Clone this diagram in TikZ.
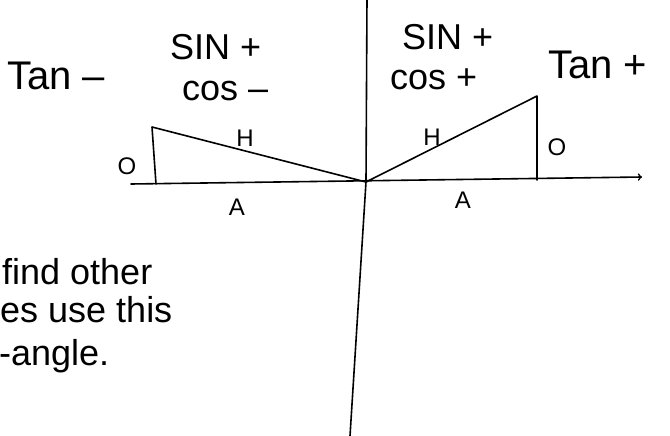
\documentclass[tikz,border=0pt]{standalone}
\usepackage{fontspec}
\setmainfont{Liberation Sans}
\usepackage{tikz}
\usetikzlibrary{arrows,positioning,calc}

\begin{document}
\begin{tikzpicture}[x=1pt, y=-1pt,
    sign/.style={anchor=base west, inner sep=0pt, font=\fontsize{36}{40}\selectfont},
    tanlabel/.style={anchor=base west, inner sep=0pt, font=\fontsize{40}{44}\selectfont},
    side/.style={inner sep=0pt, font=\fontsize{24}{28}\selectfont},
    note/.style={anchor=base west, inner sep=0pt, font=\fontsize{36}{40}\selectfont},
    pen/.style={line width=1.6pt, line cap=round, line join=round}]

    \useasboundingbox (0,0) rectangle (670,436);

    % axes
    \coordinate (O) at (366,182);
    \coordinate (ytop) at (367,-2);
    \coordinate (ybot) at (350,436);
    \coordinate (xleft) at (131,184);
    \coordinate (xright) at (642,177);
    \draw[pen] (ytop) -- (O) -- (ybot);
    \draw[pen, ->] (xleft) -- (xright);

    % second quadrant triangle
    \coordinate (ltop) at (152,127);
    \coordinate (lfoot) at (156,184);
    \draw[pen] (lfoot) -- (ltop) -- (O);

    % first quadrant triangle
    \coordinate (rtop) at (537,96);
    \coordinate (rfoot) at (537,180);
    \draw[pen] (O) -- (rtop) -- (rfoot);

    % signs
    \node[tanlabel] (tanl) at (7,90) {Tan --};
    \node[sign] (sinl) at (170,60) {SIN +};
    \node[sign] (cosl) at (182,100) {cos --};
    \node[sign] (sinr) at (402,50) {SIN +};
    \node[sign] (cosr) at (390,90) {cos +};
    \node[tanlabel] (tanr) at (548,78) {Tan +};

    % sides
    \node[side] (hl) at (245,138) {H};
    \node[side] (ol) at (127,166) {O};
    \node[side] (al) at (237,207) {A};
    \node[side] (hr) at (432,137) {H};
    \node[side] (or) at (557,147) {O};
    \node[side] (ar) at (463,200) {A};

    % note
    \node[note] (note1) at (2,284) {find other};
    \node[note] (note2) at (0,322) {es use this};
    \node[note] (note3) at (-1,365) {-angle.};
\end{tikzpicture}
\end{document}
